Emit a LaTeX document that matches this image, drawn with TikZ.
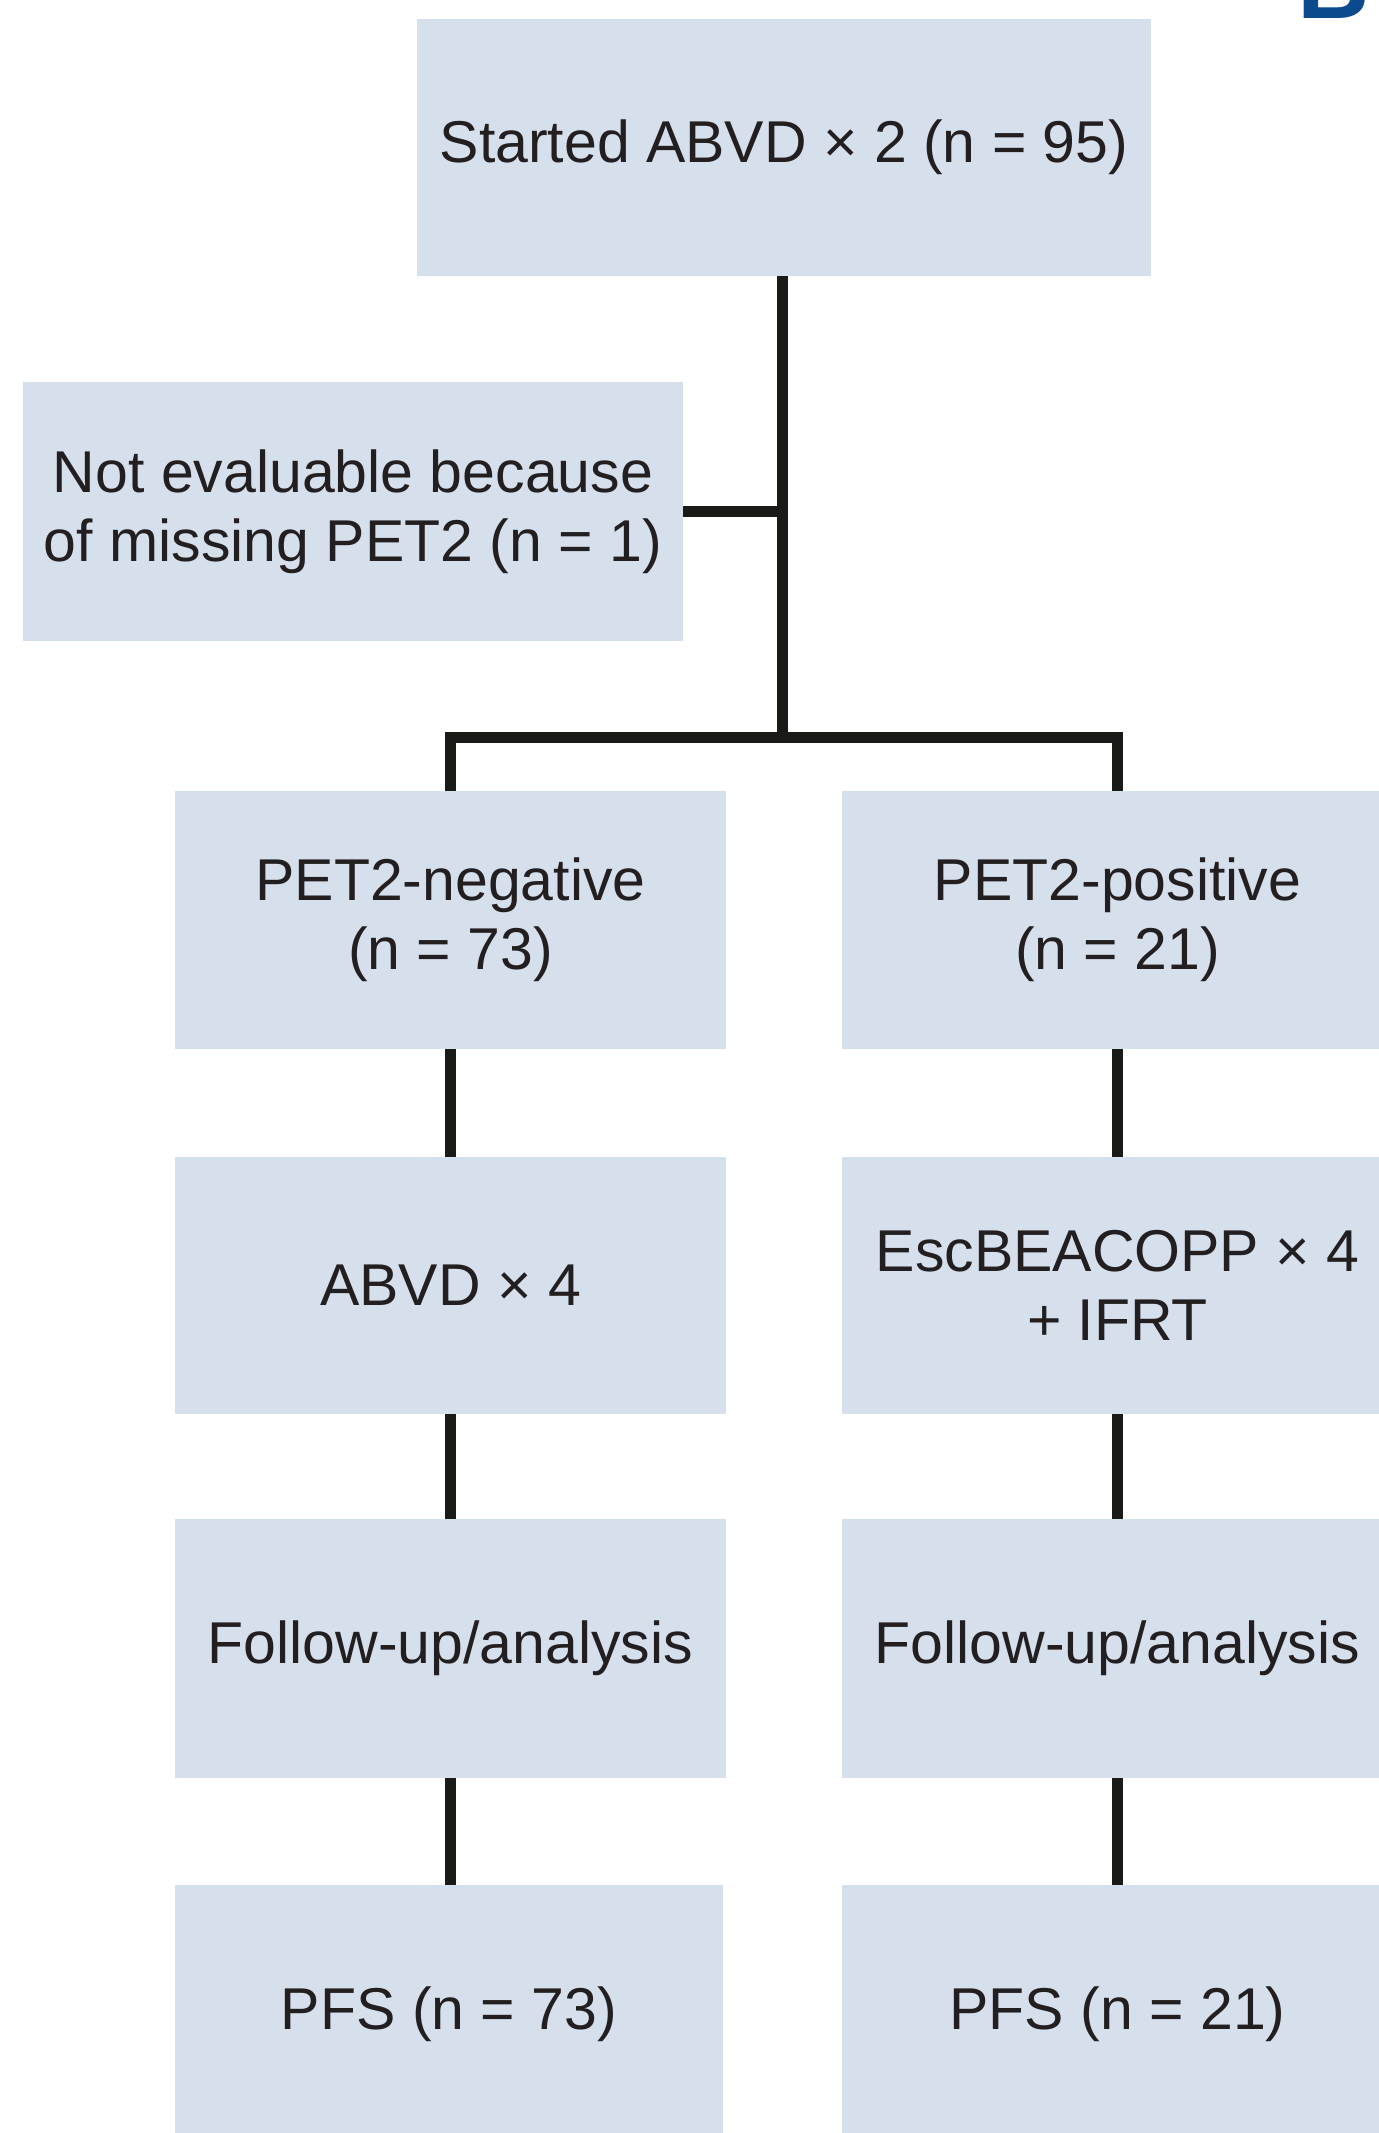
\documentclass[tikz,border=0pt]{standalone}
\usepackage{fontspec}
\setmainfont{Liberation Sans}
\definecolor{boxfill}{HTML}{D6DFEC}
\definecolor{txt}{HTML}{231F20}
\definecolor{linec}{HTML}{1A1A16}
\definecolor{lbl}{HTML}{0B4A8C}
\begin{document}
\begin{tikzpicture}[x=0.5pt,y=-0.5pt,
  flowbox/.style={fill=boxfill,draw=none,inner sep=0pt,align=center,text=txt,
    font=\fontsize{29.5pt}{34.5pt}\selectfont},
  conn/.style={draw=linec,line width=5.5pt},
  barline/.style={draw=linec,line width=5.8pt,line join=miter}]
\useasboundingbox (0,0) rectangle (1379,2133);
\clip (0,0) rectangle (1379,2133);
\fill[white] (0,0) rectangle (1379,2133);
% panel label (cut off by top edge)
\node[anchor=base west,inner sep=0pt,text=lbl,font=\fontsize{50pt}{50pt}\selectfont\bfseries] (lab) at (1297,18) {B};
% boxes
\node[flowbox,minimum width=733.5pt*0.5,minimum height=257pt*0.5] (top) at (784,147.5) {Started ABVD × 2 (n = 95)};
\node[flowbox,minimum width=660pt*0.5,minimum height=259pt*0.5] (ne) at (353,511.5) {Not evaluable because\\of missing PET2 (n = 1)};
\node[flowbox,minimum width=551pt*0.5,minimum height=258pt*0.5] (neg) at (450.5,920) {PET2-negative\\(n = 73)};
\node[flowbox,minimum width=551pt*0.5,minimum height=258pt*0.5] (pos) at (1117.5,920) {PET2-positive\\(n = 21)};
\node[flowbox,minimum width=551pt*0.5,minimum height=257pt*0.5] (abvd) at (450.5,1285.5) {ABVD × 4};
\node[flowbox,minimum width=551pt*0.5,minimum height=257pt*0.5] (esc) at (1117.5,1285.5) {EscBEACOPP × 4\\+ IFRT};
\node[flowbox,minimum width=551pt*0.5,minimum height=259pt*0.5] (fuL) at (450.5,1648.5) {Follow-up/analysis};
\node[flowbox,minimum width=551pt*0.5,minimum height=259pt*0.5] (fuR) at (1117.5,1648.5) {Follow-up/analysis};
\node[flowbox,minimum width=548pt*0.5,minimum height=258pt*0.5] (pfsL) at (449,2014) {PFS (n = 73)};
\node[flowbox,minimum width=551pt*0.5,minimum height=258pt*0.5] (pfsR) at (1117.5,2014) {PFS (n = 21)};
% connectors
\coordinate (split) at (782.5,737.5);
\draw[conn] (split |- top.south) -- (split);
\draw[conn] (ne.east) -- (ne.east -| split);
\draw[barline] (neg.north) |- (split) -| (pos.north);
\draw[conn] (neg.south) -- (abvd.north);
\draw[conn] (pos.south) -- (esc.north);
\draw[conn] (abvd.south) -- (fuL.north);
\draw[conn] (esc.south) -- (fuR.north);
\draw[conn] (fuL.south -| neg.south) -- (pfsL.north -| neg.south);
\draw[conn] (fuR.south) -- (pfsR.north);
\end{tikzpicture}
\end{document}
